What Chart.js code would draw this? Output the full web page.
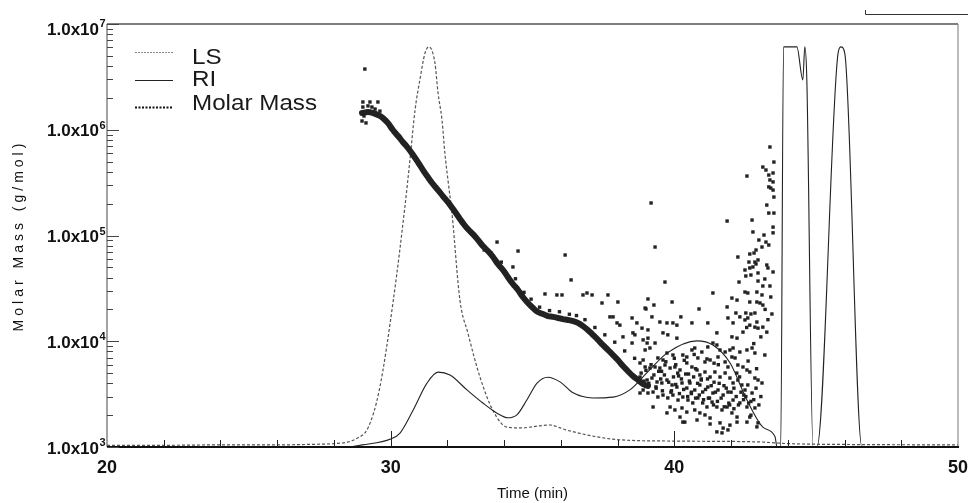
<!DOCTYPE html>
<html>
<head>
<meta charset="utf-8">
<script src="https://cdn.jsdelivr.net/npm/chart.js@4.4.1/dist/chart.umd.min.js"></script>
<style>
  html, body { margin: 0; padding: 0; background: #fff; }
</style>
</head>
<body>
<canvas id="molar-mass-chart" width="968" height="503"></canvas>
<script>
// x tick labels (min) and y decades (g/mol)
var xTickLabels = [20, 30, 40, 50];
var yDecades = [1e3, 1e4, 1e5, 1e6, 1e7];

// LS detector trace (fraction of full scale)
var lsTime = [20, 22, 24, 26, 27, 28, 28.5, 28.8, 29.2, 29.6, 30.1, 30.5, 30.68, 30.86, 31.03, 31.21, 31.35, 31.56, 31.67, 31.81,
  31.91, 32.02, 32.16, 32.44, 32.72, 33.15, 33.6, 34.1, 34.56, 35.26, 35.6, 36.2, 37.27, 38.08, 40, 43, 44, 46, 50];
var lsSignal = [0.004, 0.004, 0.005, 0.005, 0.006, 0.008, 0.012, 0.02, 0.045, 0.135, 0.35, 0.567, 0.679, 0.797, 0.868, 0.931, 0.946, 0.908, 0.837, 0.773,
  0.695, 0.631, 0.553, 0.348, 0.27, 0.165, 0.087, 0.047, 0.045, 0.050, 0.052, 0.040, 0.024, 0.017, 0.014, 0.012, 0.008, 0.006, 0.005];

// RI detector trace (fraction of full scale)
var riTime = [20, 28.5, 29.0, 30.0, 30.33, 30.79, 31.28, 31.67, 32.09, 32.69, 33.25, 33.75, 34.13, 34.45, 34.8, 35.16, 35.54, 35.97, 36.43, 37.13,
  37.84, 38.43, 39.03, 39.74, 40.8, 41.36, 41.96, 42.56, 43.12, 43.55, 43.62, 43.75, 43.85, 44.32, 44.53, 44.6, 44.67, 44.89, 45.03, 45.77,
  45.87, 46.01, 46.61, 50];
var riSignal = [0, 0, 0.005, 0.019, 0.033, 0.087, 0.151, 0.177, 0.170, 0.135, 0.104, 0.080, 0.069, 0.076, 0.111, 0.151, 0.165, 0.154, 0.128, 0.116,
  0.118, 0.135, 0.175, 0.222, 0.251, 0.241, 0.199, 0.111, 0.047, 0.024, 0, 0, 0.946, 0.946, 0.868, 0.946, 0.87, 0, 0, 0.93,
  0.946, 0.93, 0, 0];

// molar mass, dense main band
var bandTime = [28.99, 29.20, 29.38, 29.55, 29.73, 29.90, 30.08, 30.26, 30.43, 30.61, 30.79, 30.96, 31.14, 31.31, 31.49, 31.67, 31.84, 32.02, 32.20, 32.37,
  32.55, 32.72, 32.90, 33.08, 33.25, 33.43, 33.61, 33.78, 33.96, 34.13, 34.31, 34.49, 34.66, 34.84, 35.02, 35.19, 35.37, 35.54, 35.72, 35.90,
  36.07, 36.25, 36.43, 36.60, 36.78, 36.95, 37.13, 37.31, 37.48, 37.66, 37.84, 38.01, 38.19, 38.36, 38.54, 38.72, 38.89, 39.07];
var bandMass = [1.44e6, 1.47e6, 1.44e6, 1.38e6, 1.29e6, 1.16e6, 9.95e5, 8.73e5, 7.66e5, 6.72e5, 5.77e5, 4.95e5, 4.16e5, 3.57e5, 3.07e5, 2.69e5, 2.36e5, 2.07e5, 1.78e5, 1.53e5,
  1.31e5, 1.15e5, 1.03e5, 9.06e4, 7.96e4, 7.13e4, 6.26e4, 5.38e4, 4.72e4, 4.05e4, 3.48e4, 3.05e4, 2.62e4, 2.30e4, 2.06e4, 1.89e4, 1.81e4, 1.73e4, 1.70e4, 1.66e4,
  1.62e4, 1.59e4, 1.55e4, 1.49e4, 1.39e4, 1.28e4, 1.15e4, 1.03e4, 9.22e3, 8.27e3, 7.41e3, 6.65e3, 5.83e3, 5.23e3, 4.69e3, 4.30e3, 3.94e3, 3.78e3];

// molar mass, scattered slices
var dotTime = [29.09, 29.02, 29.27, 29.55, 28.99, 29.02, 29.13, 29.20, 29.34, 29.45, 29.06, 29.62,
  33.75, 34.49, 36.15, 36.36, 34.31, 35.44, 35.86, 36.04, 36.78, 36.92, 37.10, 37.66, 38.01, 37.45, 37.84, 37.98, 38.19, 38.51,
  38.61, 38.51, 38.68, 38.90, 37.73, 38.08, 38.54, 39.04, 38.79, 39.25, 39.74, 40.20, 40.37, 40.80,
  43.37, 43.51, 43.12, 43.23, 42.56, 43.33, 43.48, 43.37, 43.48, 43.33, 43.40, 43.48, 43.51, 39.18, 43.26, 43.33, 43.51, 41.86, 42.74, 43.48,
  43.48, 42.77, 43.16, 42.98, 43.23, 43.33, 39.32, 43.09, 42.88, 42.81, 42.24, 42.66, 42.63, 42.84, 42.95, 42.77, 42.88, 43.26, 43.30, 42.49,
  42.66, 43.48, 42.95, 42.52, 42.70, 39.67, 42.28, 42.95, 43.19, 43.12, 43.37, 41.36, 42.49, 42.59, 42.91, 43.09, 39.07, 39.28, 39.92, 42.03,
  42.21, 42.66, 42.91, 43.02, 43.40, 39.00, 41.86, 40.87, 43.44, 42.17, 42.52, 42.70, 40.23, 39.21, 41.89, 42.59,
  38.97, 42.31, 42.84, 42.91, 43.12, 39.49, 39.74, 39.95, 40.09, 40.62, 41.18, 42.07, 42.49, 42.66, 42.84, 42.95, 43.12, 43.26, 38.86, 39.07,
  39.60, 39.77, 41.50, 42.03, 42.21, 42.42, 38.90, 39.07, 39.32, 38.97, 39.14, 40.09, 40.62, 40.72, 40.97, 41.18, 41.36, 41.50, 41.61, 41.79,
  41.96, 42.07, 42.31, 42.56, 42.74, 42.84, 42.03, 42.14, 43.19, 39.74, 39.95, 39.42, 39.60, 40.30, 40.44, 40.83, 41.08, 41.26, 41.54, 41.79,
  41.89, 42.24, 42.42, 42.56, 42.66, 42.84, 42.95, 43.09, 38.79, 38.97, 39.14, 39.32, 39.49, 39.67, 39.85, 40.02, 40.20, 40.44, 40.62, 40.80,
  40.90, 41.08, 41.26, 41.43, 41.61, 41.79, 41.96, 42.07, 42.24, 42.38, 42.49, 42.59, 42.74, 38.79, 39.04, 39.21, 39.39, 39.56, 39.74, 39.92,
  40.09, 40.27, 40.44, 40.55, 40.72, 40.90, 41.00, 41.18, 41.36, 41.54, 41.72, 41.89, 42.07, 42.31, 42.56, 42.84, 38.90, 39.07, 39.25, 39.42,
  39.60, 39.77, 39.95, 40.13, 40.30, 40.48, 40.65, 40.83, 41.00, 41.15, 41.33, 41.50, 41.68, 41.86, 42.03, 42.21, 39.85, 40.02, 40.27, 40.44,
  40.72, 40.90, 41.08, 41.26, 40.30, 41.61, 41.72, 41.89, 41.50, 41.68, 41.96, 42.95, 42.66, 42.56, 42.91, 41.26, 42.21,
  33.30, 33.55, 33.90, 34.05, 34.40, 34.70, 34.95, 35.25, 35.60, 35.95, 36.30, 36.55, 36.85, 37.20, 37.55, 37.90, 38.25, 38.60,
  39.55, 40.15, 40.50, 40.95, 41.40, 41.75, 42.10, 42.45, 39.35, 39.90, 40.60, 41.20, 41.95, 42.70, 40.05, 40.75, 41.40, 42.30,
  38.83, 38.93, 39.00, 39.10, 39.18, 39.28, 39.36, 39.45, 39.52, 39.58, 39.65, 39.70, 39.80, 39.88, 39.97, 40.05, 40.12, 40.18, 40.25, 40.33,
  40.40, 40.47, 40.53, 40.60, 40.68, 40.75, 40.82, 40.88, 40.95, 41.03, 41.10, 41.17, 41.24, 41.30, 41.38, 41.45, 41.52, 41.58, 41.65, 41.76,
  41.83, 41.92, 42.00, 42.10, 42.18, 42.26, 42.35, 42.44, 42.52, 42.62, 42.70, 42.80, 42.88, 42.98, 43.05, 41.55, 41.15, 40.70, 40.35, 40.00,
  42.20, 42.60, 42.90, 43.05, 42.80, 43.20, 43.30, 42.55];
var dotMass = [3.75e6, 1.83e6, 1.83e6, 1.83e6, 1.21e6, 1.64e6, 1.16e6, 1.68e6, 1.64e6, 1.57e6, 1.35e6, 1.50e6,
  8.67e4, 7.13e4, 6.54e4, 3.80e4, 5.04e4, 2.80e4, 2.74e4, 2.74e4, 2.74e4, 2.86e4, 2.74e4, 2.74e4, 2.35e4, 2.30e4, 1.70e4, 1.49e4, 1.10e4, 9.62e3,
  1.15e4, 1.66e4, 1.49e4, 6.65e3, 1.70e4, 1.42e4, 1.20e4, 9.62e3, 3.24e3, 2.39e3, 2.10e3, 1.92e3, 1.72e3, 1.80e3,
  6.87e5, 4.95e5, 4.44e5, 4.16e5, 3.65e5, 3.73e5, 3.90e5, 3.35e5, 3.21e5, 2.88e5, 2.81e5, 2.69e5, 2.31e5, 2.03e5, 1.94e5, 1.63e5, 1.63e5, 1.37e5, 1.40e5, 1.20e5,
  1.06e5, 1.08e5, 1.01e5, 9.06e4, 8.67e4, 8.13e4, 7.78e4, 7.78e4, 7.29e4, 6.83e4, 6.26e4, 6.68e4, 5.61e4, 5.61e4, 5.87e4, 5.04e4, 5.38e4, 5.26e4, 4.93e4, 4.72e4,
  4.93e4, 4.52e4, 4.42e4, 4.14e4, 4.23e4, 3.63e4, 3.63e4, 3.71e4, 3.88e4, 3.33e4, 3.33e4, 2.86e4, 2.92e4, 2.86e4, 2.92e4, 2.74e4, 2.51e4, 2.20e4, 2.35e4, 2.56e4,
  2.45e4, 2.35e4, 2.35e4, 2.30e4, 2.62e4, 2.02e4, 2.11e4, 2.02e4, 1.81e4, 1.85e4, 1.85e4, 1.81e4, 1.70e4, 1.70e4, 1.66e4, 1.66e4,
  2.06e4, 1.70e4, 1.85e4, 1.52e4, 2.20e4, 1.52e4, 1.49e4, 1.49e4, 1.42e4, 1.49e4, 1.49e4, 1.49e4, 1.59e4, 1.42e4, 1.36e4, 1.33e4, 1.36e4, 1.22e4, 1.33e4, 1.28e4,
  1.20e4, 1.15e4, 1.20e4, 1.10e4, 1.07e4, 1.22e4, 1.03e4, 1.07e4, 9.62e3, 8.27e3, 8.63e3, 1.07e4, 8.27e3, 8.63e3, 7.91e3, 8.83e3, 9.62e3, 9.22e3, 8.27e3, 7.91e3,
  8.27e3, 8.63e3, 7.91e3, 8.27e3, 8.63e3, 7.74e3, 7.10e3, 6.95e3, 7.41e3, 7.74e3, 7.41e3, 6.95e3, 6.65e3, 7.41e3, 7.10e3, 6.95e3, 6.37e3, 6.65e3, 7.10e3, 6.37e3,
  5.71e3, 5.96e3, 5.71e3, 5.35e3, 5.12e3, 4.49e3, 4.30e3, 4.03e3, 6.23e3, 5.71e3, 5.58e3, 5.71e3, 5.58e3, 5.96e3, 5.58e3, 5.71e3, 5.35e3, 6.23e3, 5.71e3, 5.35e3,
  4.80e3, 5.12e3, 4.59e3, 5.12e3, 4.59e3, 5.01e3, 4.49e3, 4.03e3, 4.30e3, 3.86e3, 3.46e3, 3.86e3, 3.24e3, 4.59e3, 4.30e3, 4.49e3, 4.12e3, 4.03e3, 4.30e3, 3.86e3,
  3.69e3, 4.03e3, 3.61e3, 4.03e3, 3.46e3, 3.86e3, 3.31e3, 3.69e3, 3.24e3, 3.46e3, 3.10e3, 3.31e3, 2.78e3, 2.61e3, 2.39e3, 2.34e3, 3.46e3, 3.24e3, 3.31e3, 2.97e3,
  3.10e3, 2.91e3, 3.10e3, 2.78e3, 2.97e3, 2.78e3, 2.61e3, 2.91e3, 2.61e3, 2.39e3, 2.66e3, 2.39e3, 2.24e3, 2.39e3, 2.10e3, 1.92e3, 2.39e3, 2.24e3, 2.34e3, 2.14e3,
  2.24e3, 2.10e3, 2.01e3, 1.88e3, 1.72e3, 1.69e3, 1.51e3, 1.45e3, 1.39e3, 1.36e3, 1.61e3, 1.69e3, 1.92e3, 1.72e3, 1.55e3, 1.65e3, 1.72e3,
  7.30e4, 6.80e4, 5.60e4, 4.30e4, 3.90e4, 2.90e4, 2.50e4, 2.10e4, 1.95e4, 1.90e4, 1.80e4, 1.75e4, 1.60e4, 1.35e4, 1.15e4, 9.80e3, 8.10e3, 6.90e3,
  5.20e3, 4.70e3, 4.90e3, 4.40e3, 4.10e3, 3.80e3, 3.60e3, 3.10e3, 3.70e3, 3.40e3, 3.20e3, 2.90e3, 2.50e3, 2.70e3, 6.00e3, 5.50e3, 6.20e3, 4.60e3,
  5.0e3, 4.2e3, 5.3e3, 4.0e3, 6.0e3, 4.8e3, 3.6e3, 5.2e3, 4.4e3, 3.4e3, 4.8e3, 6.4e3, 4.1e3, 3.3e3, 4.6e3, 3.9e3, 5.0e3, 3.2e3, 4.4e3, 3.5e3,
  4.9e3, 3.0e3, 4.2e3, 3.3e3, 4.6e3, 2.9e3, 4.0e3, 3.1e3, 4.3e3, 2.8e3, 3.5e3, 4.4e3, 2.9e3, 3.8e3, 2.5e3, 3.3e3, 2.7e3, 4.0e3, 2.9e3, 2.4e3,
  3.6e3, 2.6e3, 3.3e3, 2.3e3, 3.0e3, 2.5e3, 3.3e3, 2.8e3, 3.0e3, 2.6e3, 2.0e3, 2.8e3, 3.6e3, 2.5e3, 3.0e3, 6.0e3, 6.8e3, 7.5e3, 6.6e3, 6.9e3,
  5.0e3, 6.5e3, 5.5e3, 1.1e4, 9.5e3, 2.0e4, 1.6e4, 1.35e4];

var FONT = "'Liberation Sans', Arial, sans-serif";
var INK = '#222';

function pairs(xs, ys) {
  return xs.map(function(x, i) { return { x: x, y: ys[i] } });
}

// frame, inward ticks, axis labels with exponents, y title, legend
var frame_plugin = {
  id: 'frame',
  afterDraw: function(chart) {
    var c = chart.ctx, a = chart.chartArea;
    var xs = chart.scales.x, ys = chart.scales.y;
    c.save();

    c.lineWidth = 1.6; c.strokeStyle = '#555';
    c.beginPath(); c.moveTo(a.left, a.top); c.lineTo(a.right, a.top); c.stroke();
    c.lineWidth = 1.2; c.strokeStyle = '#666';
    c.beginPath(); c.moveTo(a.left, a.top); c.lineTo(a.left, a.bottom); c.stroke();
    c.lineWidth = 1; c.strokeStyle = '#777';
    c.beginPath(); c.moveTo(a.right, a.top); c.lineTo(a.right, a.bottom); c.stroke();
    c.lineWidth = 2; c.strokeStyle = '#111';
    c.beginPath(); c.moveTo(a.left, a.bottom); c.lineTo(a.right + 1, a.bottom); c.stroke();

    // x ticks every 2 min, pointing up
    c.lineWidth = 1; c.strokeStyle = '#222';
    for (var t = 22; t < 50; t += 2) {
      var px = Math.round(xs.getPixelForValue(t)) + 0.5;
      var len = (t % 10 == 0) ? 16 : 7;
      c.beginPath(); c.moveTo(px, a.bottom); c.lineTo(px, a.bottom - len); c.stroke();
    }

    // x labels
    c.fillStyle = '#111';
    c.font = 'bold 18px ' + FONT;
    c.textAlign = 'center'; c.textBaseline = 'alphabetic';
    xTickLabels.forEach(function(v) {
      c.fillText(String(v), xs.getPixelForValue(v), 473);
    });

    // y ticks, log minors
    c.strokeStyle = '#444';
    for (var d = 3; d < 7; d++) {
      for (var k = 1; k <= 10; k++) {
        var val = k * Math.pow(10, d);
        var py = Math.round(ys.getPixelForValue(val)) + 0.5;
        var l = (k == 1 || k == 10) ? 12 : 6;
        c.beginPath(); c.moveTo(a.left, py); c.lineTo(a.left + l, py); c.stroke();
      }
    }

    // y labels 1.0x10^n
    yDecades.forEach(function(v) {
      var e = Math.round(Math.log10(v));
      var y0 = ys.getPixelForValue(v);
      if (e == 7) y0 += 4;
      c.font = 'bold 17px ' + FONT;
      c.textAlign = 'right'; c.textBaseline = 'alphabetic';
      c.fillText('1.0x10', 99, y0 + 6.5);
      c.font = 'bold 11px ' + FONT;
      c.textAlign = 'left';
      c.fillText(String(e), 99.5, y0 - 1);
    });

    // y title
    c.save();
    c.translate(19, (a.top + a.bottom) / 2);
    c.rotate(-Math.PI / 2);
    c.font = '14px ' + FONT;
    c.letterSpacing = '4px';
    c.textAlign = 'center'; c.textBaseline = 'middle';
    c.fillText('Molar Mass (g/mol)', 0, 0);
    c.restore();

    // legend
    var rows = [
      { text: 'LS', ly: 52, ty: 58, color: '#888', width: 1, dash: [2, 1] },
      { text: 'RI', ly: 80, ty: 80, color: '#222', width: 1, dash: [] },
      { text: 'Molar Mass', ly: 107, ty: 104, color: '#111', width: 2, dash: [2, 1.5] }
    ];
    rows.forEach(function(r) {
      c.save();
      c.strokeStyle = r.color; c.lineWidth = r.width; c.setLineDash(r.dash);
      c.beginPath(); c.moveTo(135, r.ly + 0.5); c.lineTo(173, r.ly + 0.5); c.stroke();
      c.restore();
      c.save();
      c.translate(192, r.ty);
      c.scale(1.1, 1);
      c.font = '22px ' + FONT;
      c.fillStyle = '#1a1a1a';
      c.textAlign = 'left'; c.textBaseline = 'middle';
      c.fillText(r.text, 0, 0);
      c.restore();
    });

    // stray rule at top right of the scan
    c.strokeStyle = '#333'; c.lineWidth = 1; c.setLineDash([]);
    c.beginPath(); c.moveTo(865.5, 10); c.lineTo(865.5, 14.5); c.lineTo(968, 14.5); c.stroke();

    c.restore();
  }
};

var ctx = document.getElementById('molar-mass-chart').getContext('2d');
var chart = new Chart(ctx, {
  type: 'scatter',
  data: {
    datasets: [
      {
        label: 'Molar Mass',
        data: pairs(dotTime, dotMass),
        yAxisID: 'y',
        showLine: false,
        pointStyle: 'rect',
        pointRadius: 2.4,
        borderWidth: 0,
        backgroundColor: INK
      },
      {
        label: 'Molar Mass band',
        data: pairs(bandTime, bandMass),
        yAxisID: 'y',
        showLine: true,
        pointRadius: 0,
        borderWidth: 6,
        borderColor: INK,
        borderCapStyle: 'round',
        borderJoinStyle: 'round',
        tension: 0.4
      },
      {
        label: 'RI',
        data: pairs(riTime, riSignal),
        yAxisID: 'ySignal',
        showLine: true,
        pointRadius: 0,
        borderWidth: 1.1,
        borderColor: '#222',
        cubicInterpolationMode: 'monotone'
      },
      {
        label: 'LS',
        data: pairs(lsTime, lsSignal),
        yAxisID: 'ySignal',
        showLine: true,
        pointRadius: 0,
        borderWidth: 1.2,
        borderColor: '#555',
        borderDash: [3, 2],
        cubicInterpolationMode: 'monotone'
      }
    ]
  },
  options: {
    responsive: false,
    animation: false,
    events: [],
    layout: { padding: { left: 0, right: 10, top: 24, bottom: 0 } },
    plugins: {
      legend: { display: false },
      tooltip: { enabled: false }
    },
    scales: {
      x: {
        type: 'linear',
        min: 20,
        max: 50,
        afterFit: function(scale) { scale.height = 56 },
        grid: { display: false },
        border: { display: false },
        ticks: { display: false },
        title: {
          display: true,
          text: 'Time (min)',
          color: '#111',
          padding: { top: 0, bottom: 0 },
          font: { family: FONT, size: 15 }
        }
      },
      y: {
        type: 'logarithmic',
        min: 1e3,
        max: 1e7,
        afterFit: function(scale) { scale.width = 107 },
        grid: { display: false },
        border: { display: false },
        ticks: { display: false }
      },
      ySignal: {
        type: 'linear',
        min: 0,
        max: 1,
        display: false
      }
    }
  },
  plugins: [frame_plugin]
});
</script>
</body>
</html>
